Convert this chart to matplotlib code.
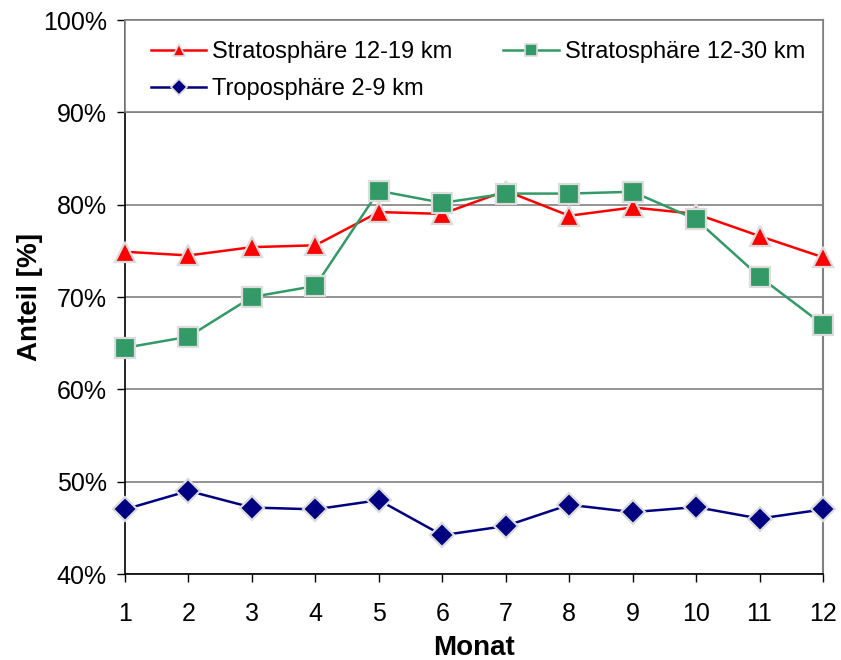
import matplotlib.pyplot as plt
from matplotlib.patches import Rectangle
from matplotlib.ticker import FuncFormatter

plt.rcParams['font.family'] = ['Liberation Sans', 'DejaVu Sans']

# Monatswerte (Anteil in %)
monate = list(range(1, 13))
strat_12_19 = [74.9, 74.5, 75.4, 75.6, 79.2, 79.0, 81.5, 78.8, 79.7, 79.0, 76.6, 74.3]
strat_12_30 = [64.5, 65.7, 70.0, 71.2, 81.5, 80.2, 81.2, 81.2, 81.4, 78.4, 72.2, 67.0]
tropo_2_9 = [47.0, 49.0, 47.2, 47.0, 48.0, 44.2, 45.2, 47.5, 46.7, 47.25, 46.0, 47.0]

fig = plt.figure(figsize=(8.41, 6.6), dpi=100)
ax = fig.add_axes([125 / 841, 1 - 574 / 660, (823 - 125) / 841, (574 - 20) / 660])

edge = '#dcdcdc'
l1, = ax.plot(monate, strat_12_19, color='#ff0000', lw=1.8, marker='^', ms=15,
              mfc='#ff0000', mec=edge, mew=1.6, label='Stratosphäre 12-19 km',
              zorder=3, clip_on=False)
l2, = ax.plot(monate, strat_12_30, color='#339966', lw=1.8, marker='s', ms=14,
              mfc='#339966', mec=edge, mew=1.6, label='Stratosphäre 12-30 km',
              zorder=4, clip_on=False)
l3, = ax.plot(monate, tropo_2_9, color='#000080', lw=1.8, marker='D', ms=12,
              mfc='#000080', mec=edge, mew=1.6, label='Troposphäre 2-9 km',
              zorder=3, clip_on=False)

ax.set_xlim(1, 12)
ax.set_ylim(40, 100)
ax.set_xticks(monate)
ax.set_yticks(range(40, 101, 10))
ax.yaxis.set_major_formatter(FuncFormatter(lambda v, p: f'{v:.0f}%'))
ax.tick_params(axis='both', labelsize=18, direction='out', length=6, width=1)
ax.tick_params(axis='x', pad=14)
ax.tick_params(axis='y', pad=7)

ax.grid(axis='y', color='#808080', lw=1.2)
ax.set_axisbelow(True)
for s in ['top', 'right']:
    ax.spines[s].set_color('#808080')
    ax.spines[s].set_linewidth(1.5)
for s in ['left', 'bottom']:
    ax.spines[s].set_color('black')
    ax.spines[s].set_linewidth(1.2)

ax.set_xlabel('Monat', fontsize=20, fontweight='bold', va='baseline')
ax.set_ylabel('Anteil [%]', fontsize=20, fontweight='bold')
ax.xaxis.set_label_coords(0.5, (574 - 655) / 554)
ax.yaxis.set_label_coords(-0.118, 0.5)

# Legendenkasten über die ganze Breite, unten bündig mit der 90%-Linie
box_bottom = 50 / 60
ax.add_patch(Rectangle((0, box_bottom), 1, 1 - box_bottom, transform=ax.transAxes,
                       facecolor='white', edgecolor='#808080', lw=1.2,
                       zorder=4.9, clip_on=False))
leg = ax.legend([l1, l3, l2], [l1.get_label(), l3.get_label(), l2.get_label()],
                loc='upper left', bbox_to_anchor=(0.037, 0.962, 0.937, 0), mode='expand',
                ncol=2, fontsize=17, frameon=False, borderaxespad=0, borderpad=0,
                handlelength=2.35, handletextpad=0.25, labelspacing=0.65)
leg.set_zorder(5)
for h in leg.legend_handles:
    h.set_markersize(8)
    h.set_markeredgewidth(1.2)

fig.savefig('out.png', dpi=100)
